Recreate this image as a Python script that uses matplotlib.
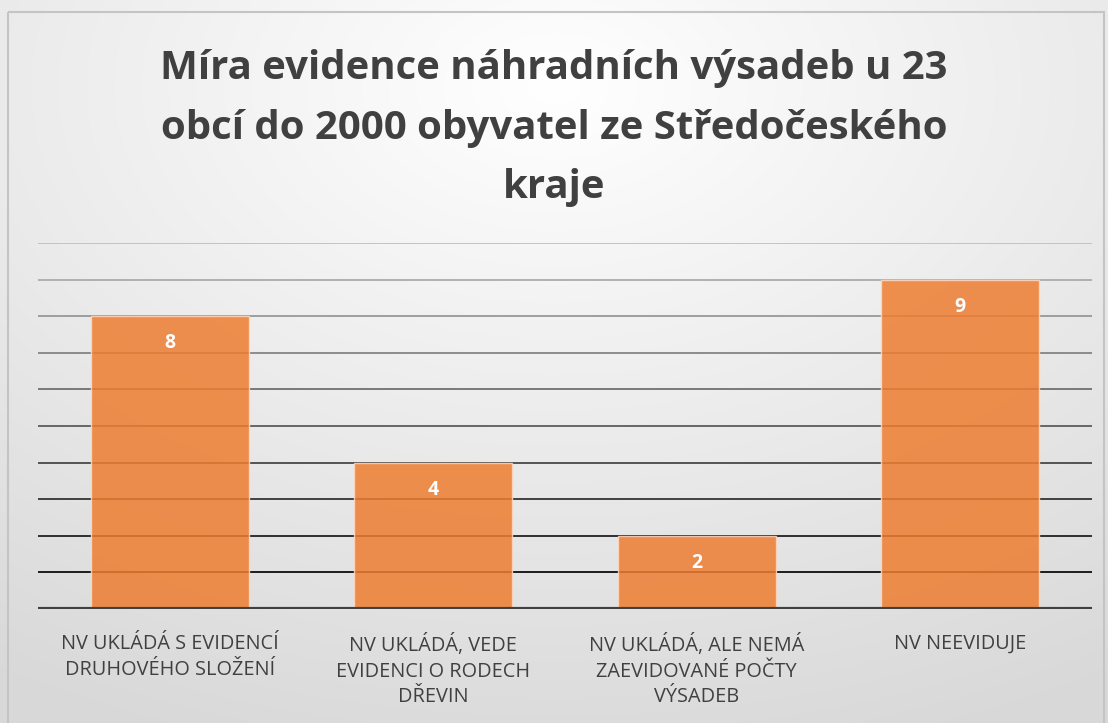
import numpy as np
import matplotlib
matplotlib.use("Agg")
import matplotlib.pyplot as plt
from matplotlib.patches import Rectangle

categories = ["NV UKLÁDÁ S EVIDENCÍ\nDRUHOVÉHO SLOŽENÍ",
              "NV UKLÁDÁ, VEDE\nEVIDENCI O RODECH\nDŘEVIN",
              "NV UKLÁDÁ, ALE NEMÁ\nZAEVIDOVANÉ POČTY\nVÝSADEB",
              "NV NEEVIDUJE"]
values = [8, 4, 2, 9]
title = "Míra evidence náhradních výsadeb u 23\nobcí do 2000 obyvatel ze Středočeského\nkraje"

W, H = 1108, 723
fig = plt.figure(figsize=(W/100, H/100), dpi=100)

# background radial gradient
bg = fig.add_axes([0, 0, 1, 1])
yy, xx = np.mgrid[0:H, 0:W]
cx, cy = W*0.5, H*0.12
d = np.sqrt(((xx-cx)/W)**2 + ((yy-cy)/H)**2)
d = np.clip(d/0.95, 0, 1)
g = 1.0 - 0.15*d
img = np.dstack([g, g, g])
bg.imshow(img, extent=[0, W, H, 0], aspect='auto', interpolation='bilinear')
bg.add_patch(Rectangle((8, 12), W-12, H-10, fill=False, ec='#c4c4c4', lw=1.5))
bg.set_xlim(0, W); bg.set_ylim(H, 0)
bg.axis('off')

# plot area in pixels
left, right, top, base = 38, 1092, 243, 609
ax = fig.add_axes([left/W, 1-base/H, (right-left)/W, (base-top)/H])
ax.patch.set_alpha(0)
x = np.arange(len(values))
ax.set_xlim(-0.5, len(values)-0.5)
ax.set_ylim(0, 10)
for v in range(1, 11):
    t = (v-1)/9
    c = 0.05 + t*0.70
    ax.axhline(v, color=(c, c, c), lw=1.3, zorder=1)
ax.axhline(0, color='#404040', lw=3, zorder=4)
bars = ax.bar(x, values, width=0.6, color='#ED7D31', alpha=0.85,
              edgecolor=(1, 0.85, 0.75, 0.8), linewidth=1, zorder=3)
for xi, v in zip(x, values):
    ax.annotate(str(v), (xi, v), xytext=(0, -19.5), textcoords='offset points',
                ha='center', va='center', color='white', fontsize=14,
                fontweight='bold', family='Open Sans', zorder=5)
ax.set_xticks(x)
ax.set_xticklabels(categories, family='Open Sans', fontsize=14.3, color='#404040',
                   linespacing=1.38)
ax.tick_params(axis='x', length=0, pad=18)
ax.set_yticks([])
for s in ax.spines.values():
    s.set_visible(False)

fig.text(0.5, 1-128/H, title, ha='center', va='center', family='Open Sans',
         fontweight='bold', fontsize=28.9, color='#404040', linespacing=1.68)

fig.savefig("out.png", dpi=100)
